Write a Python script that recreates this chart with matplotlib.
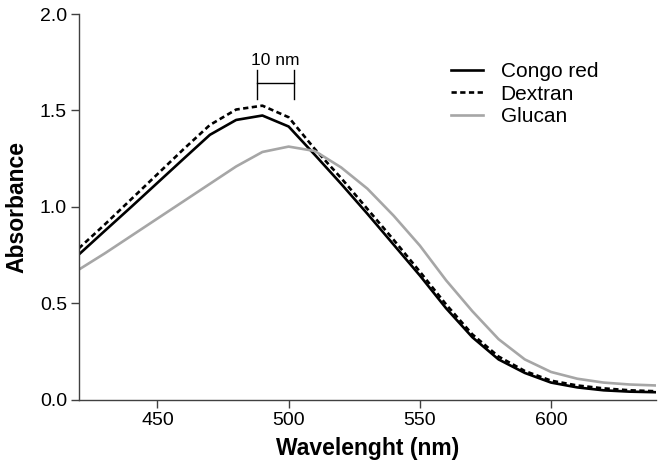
import numpy as np
from matplotlib import pyplot as plt

plt.rcParams['font.family'] = ['Liberation Sans', 'DejaVu Sans']

# wavelength (nm) and absorbance
wavelength = [420, 430, 440, 450, 460, 470, 480, 490, 500, 510, 520, 530,
              540, 550, 560, 570, 580, 590, 600, 610, 620, 630, 640]
congo_red = [0.753, 0.877, 1.00, 1.125, 1.25, 1.374, 1.451, 1.474, 1.417, 1.27,
             1.12, 0.965, 0.805, 0.645, 0.475, 0.325, 0.21, 0.14, 0.09, 0.065,
             0.05, 0.043, 0.04]
dextran = [0.785, 0.91, 1.04, 1.17, 1.30, 1.425, 1.505, 1.525, 1.465, 1.30,
           1.15, 0.99, 0.83, 0.665, 0.495, 0.34, 0.225, 0.15, 0.10, 0.075,
           0.06, 0.05, 0.045]
glucan = [0.675, 0.76, 0.85, 0.94, 1.03, 1.12, 1.21, 1.285, 1.313, 1.29,
          1.205, 1.095, 0.955, 0.80, 0.62, 0.46, 0.315, 0.21, 0.145, 0.11,
          0.09, 0.08, 0.075]

# scale bar "10 nm"
bar_x = [488, 502]
bar_y = 1.64

fig = plt.figure(figsize=(6.64, 4.75), dpi=100)
ax = fig.add_axes([0.1185, 0.158, 0.8695, 0.8125])

lw = 1.9
ax.plot(wavelength, congo_red, color='black', lw=lw, label='Congo red')
ax.plot(wavelength, dextran, color='black', lw=lw, linestyle=(0, (2.0, 1.3)),
        label='Dextran')
ax.plot(wavelength, glucan, color='#a6a6a6', lw=lw, label='Glucan')

# 10 nm marker
ax.plot(bar_x, [bar_y, bar_y], color='black', lw=1.0)
for bx in bar_x:
    ax.plot([bx, bx], [bar_y - 0.08, bar_y + 0.07], color='black', lw=1.0)
ax.text(sum(bar_x) / 2, 1.758, '10 nm', ha='center', va='center', fontsize=12.5)

ax.set_xlim(420, 640)
ax.set_ylim(0, 2.0)
ax.set_xticks([450, 500, 550, 600])
ax.set_yticks([0.0, 0.5, 1.0, 1.5, 2.0])
ax.set_yticklabels(['0.0', '0.5', '1.0', '1.5', '2.0'])

for side in ['top', 'right']:
    ax.spines[side].set_visible(False)
for side in ['left', 'bottom']:
    ax.spines[side].set_color('#404040')
    ax.spines[side].set_linewidth(1.0)
ax.tick_params(direction='out', length=6, width=1.0, color='#404040',
               labelsize=14, pad=2.5)

ax.set_xlabel('Wavelenght (nm)', fontsize=16.5, fontweight='bold', labelpad=6)
ax.set_ylabel('Absorbance', fontsize=16.5, fontweight='bold', labelpad=8)

ax.legend(loc='upper left', bbox_to_anchor=(0.626, 0.903), frameon=False,
          fontsize=15, borderpad=0, labelspacing=0.18, handlelength=1.55,
          handletextpad=0.85)

fig.savefig('out.png', dpi=100)
